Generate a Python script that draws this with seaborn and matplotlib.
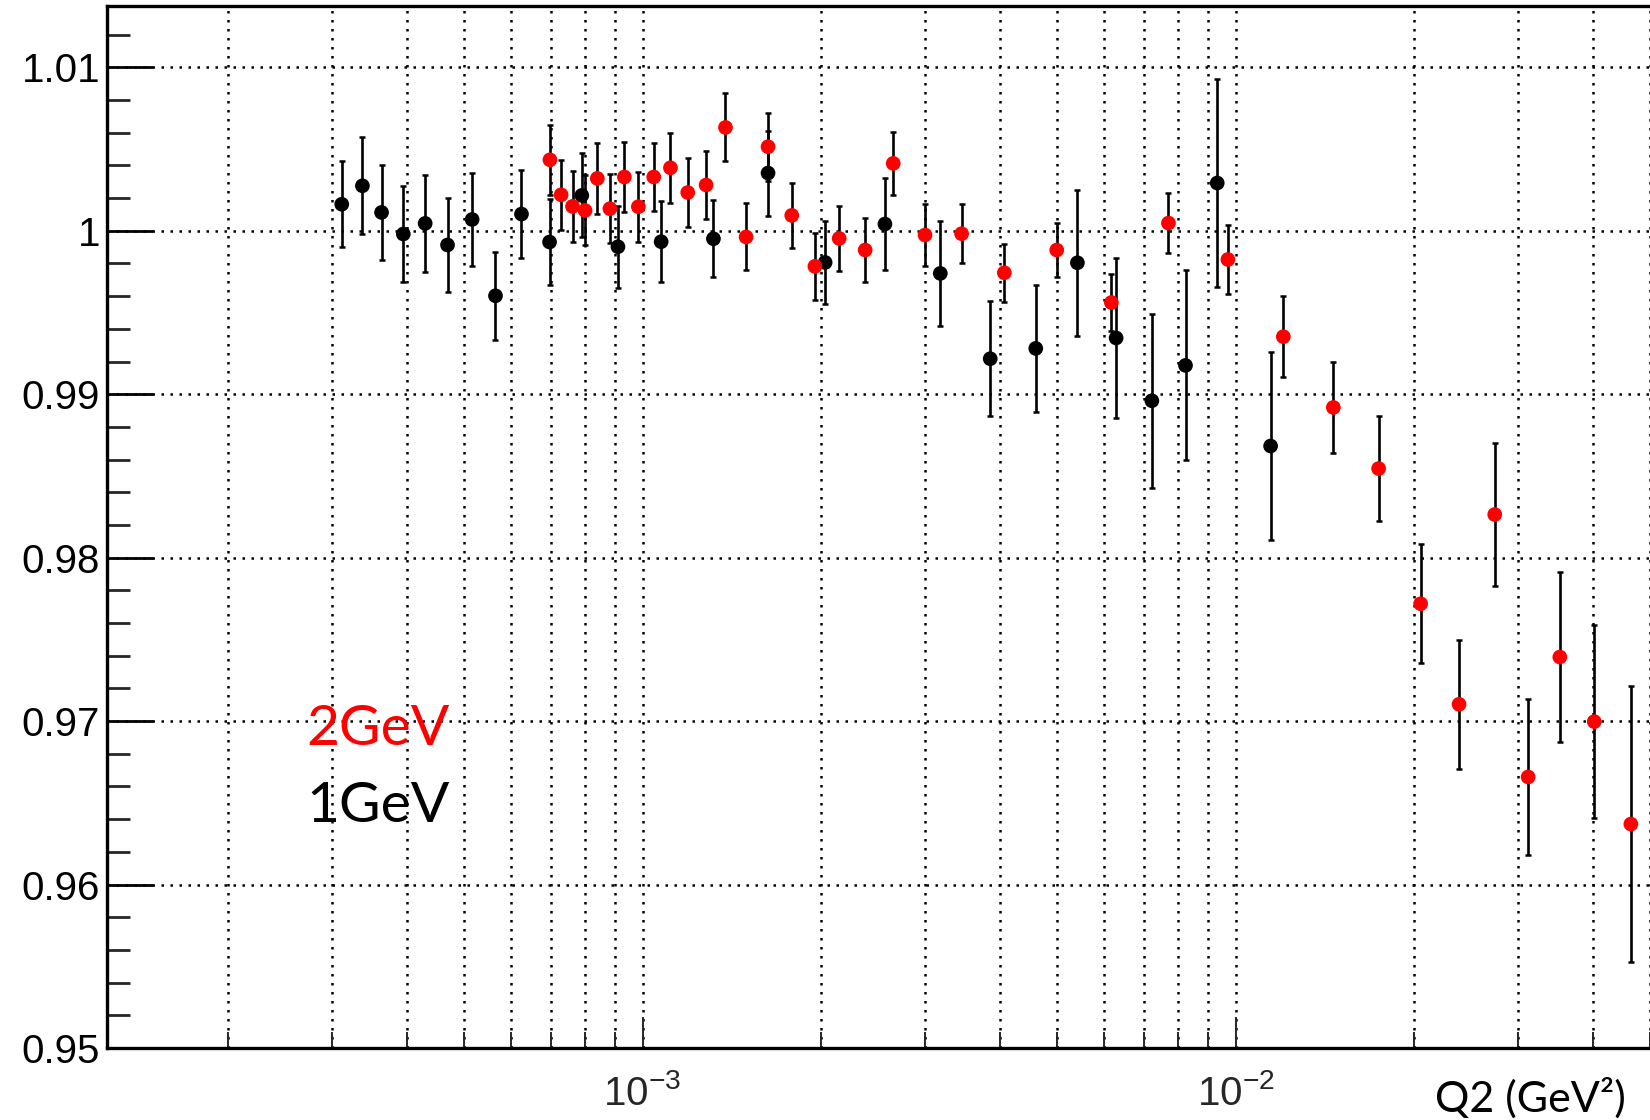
import numpy as np
import pandas as pd
import matplotlib
matplotlib.use("Agg")
import matplotlib.pyplot as plt
import seaborn as sns
from matplotlib.ticker import LogLocator, NullFormatter, MultipleLocator

# ---------------- data ----------------
q2_1gev = [3.11e-4, 3.37e-4, 3.63e-4, 3.95e-4, 4.30e-4, 4.69e-4, 5.16e-4, 5.65e-4,
           6.25e-4, 6.97e-4, 7.90e-4, 9.09e-4, 1.075e-3, 1.317e-3, 1.628e-3, 2.032e-3,
           2.563e-3, 3.178e-3, 3.858e-3, 4.604e-3, 5.412e-3, 6.29e-3, 7.226e-3,
           8.235e-3, 9.314e-3, 1.146e-2]
ratio_1gev = [1.00162, 1.00275, 1.00112, 0.99980, 1.00045, 0.99913, 1.00069, 0.99602,
              1.00102, 0.99931, 1.00216, 0.99902, 0.99933, 0.99951, 1.00353, 0.99806,
              1.00041, 0.99739, 0.99217, 0.99280, 0.99804, 0.99344, 0.98960, 0.99176,
              1.00292, 0.98683]
err_1gev = [0.00262, 0.00296, 0.00292, 0.00295, 0.00295, 0.00290, 0.00283, 0.00271,
            0.00268, 0.00262, 0.00257, 0.00252, 0.00249, 0.00236, 0.00260, 0.00253,
            0.00279, 0.00320, 0.00353, 0.00388, 0.00445, 0.00489, 0.00531, 0.00581,
            0.00638, 0.00575]

q2_2gev = [6.98e-4, 7.29e-4, 7.62e-4, 8.00e-4, 8.39e-4, 8.81e-4, 9.32e-4, 9.84e-4,
           1.0445e-3, 1.1145e-3, 1.192e-3, 1.280e-3, 1.380e-3, 1.495e-3, 1.628e-3,
           1.785e-3, 1.953e-3, 2.146e-3, 2.374e-3, 2.647e-3, 2.995e-3, 3.452e-3,
           4.075e-3, 4.995e-3, 6.175e-3, 7.707e-3, 9.709e-3, 1.204e-2, 1.462e-2,
           1.743e-2, 2.052e-2, 2.382e-2, 2.736e-2, 3.115e-2, 3.523e-2, 4.027e-2, 4.642e-2]
ratio_2gev = [1.00434, 1.00220, 1.00149, 1.00124, 1.00320, 1.00135, 1.00329, 1.00147,
              1.00329, 1.00385, 1.00234, 1.00280, 1.00632, 0.99962, 1.00514, 1.00094,
              0.99782, 0.99953, 0.99882, 1.00412, 0.99974, 0.99982, 0.99743, 0.99882,
              0.99561, 1.00047, 0.99824, 0.99352, 0.98919, 0.98545, 0.97718, 0.97103,
              0.98264, 0.96658, 0.97392, 0.96997, 0.96370]
err_2gev = [0.00216, 0.00214, 0.00216, 0.00214, 0.00217, 0.00210, 0.00214, 0.00213,
            0.00210, 0.00214, 0.00211, 0.00210, 0.00208, 0.00205, 0.00207, 0.00201,
            0.00203, 0.00200, 0.00197, 0.00193, 0.00192, 0.00182, 0.00176, 0.00165,
            0.00174, 0.00184, 0.00209, 0.00246, 0.00280, 0.00319, 0.00363, 0.00396,
            0.00440, 0.00475, 0.00521, 0.00591, 0.00846]

series_names = ["1GeV", "2GeV"]
series_colors = ["black", "red"]

x_tick_vals = [1e-3, 1e-2]
x_tick_labels = [r"$\mathdefault{10^{-3}}$", r"$\mathdefault{10^{-2}}$"]
y_tick_vals = [0.95, 0.96, 0.97, 0.98, 0.99, 1.00, 1.01]
y_tick_labels = ["0.95", "0.96", "0.97", "0.98", "0.99", "1", "1.01"]
x_label = "Q2 (GeV\u00b2)"

# ---------------- style ----------------
sns.set_theme(style="ticks")
plt.rcParams["font.family"] = ["Liberation Sans", "DejaVu Sans"]
plt.rcParams["mathtext.fontset"] = "custom"
plt.rcParams["mathtext.rm"] = "Liberation Sans"
plt.rcParams["mathtext.it"] = "Liberation Sans:italic"
plt.rcParams["mathtext.bf"] = "Liberation Sans:bold"

df = pd.concat([
    pd.DataFrame({"Q2": q2_1gev, "ratio": ratio_1gev, "err": err_1gev, "beam": series_names[0]}),
    pd.DataFrame({"Q2": q2_2gev, "ratio": ratio_2gev, "err": err_2gev, "beam": series_names[1]}),
], ignore_index=True)

W, H = 1650, 1120
fig = plt.figure(figsize=(W / 100, H / 100), dpi=100)
ax = fig.add_axes([107 / W, 72 / H, 1543 / W, 1042 / H])
ax.set_xscale("log")
ax.set_xlim(1.25e-4, 5e-2)
ax.set_ylim(0.95, 1.01375)

# error bars (black for both series)
for name in series_names:
    sub = df[df["beam"] == name]
    ax.errorbar(sub["Q2"], sub["ratio"], yerr=sub["err"], fmt="none",
                ecolor="black", elinewidth=1.9, capsize=2.2, capthick=1.8, zorder=2)

sns.scatterplot(data=df, x="Q2", y="ratio", hue="beam",
                palette=dict(zip(series_names, series_colors)),
                s=112, linewidth=0, legend=False, ax=ax, zorder=3)

# ticks
ax.set_xticks(x_tick_vals, labels=x_tick_labels)
ax.xaxis.set_minor_locator(LogLocator(base=10, subs=np.arange(2, 10), numticks=30))
ax.xaxis.set_minor_formatter(NullFormatter())
ax.set_yticks(y_tick_vals, labels=y_tick_labels)
ax.yaxis.set_minor_locator(MultipleLocator(0.002))

ax.tick_params(axis="y", which="major", direction="in", length=33, width=2.0,
               pad=5, labelsize=29, left=True, right=False, colors="black")
ax.tick_params(axis="y", which="minor", direction="in", length=16.5, width=2.0,
               left=True, right=False)
ax.tick_params(axis="x", which="major", direction="in", length=22.5, width=1.4,
               pad=19, labelsize=29, bottom=True, top=False)
ax.tick_params(axis="x", which="minor", direction="in", length=11.5, width=1.4,
               bottom=True, top=False)

# grid
ax.set_axisbelow(True)
gstyle = dict(color="black", linestyle=(0, (1.0, 2.6)), linewidth=1.8)
ax.xaxis.grid(True, which="both", **gstyle)
ax.yaxis.grid(True, which="major", **gstyle)

for side in ["left", "top", "bottom"]:
    ax.spines[side].set_linewidth(2.4)
    ax.spines[side].set_color("black")
ax.spines["right"].set_visible(False)

ax.set_xlabel("")
ax.set_ylabel("")

# annotations
fig.text(306 / W, 1 - 745 / H, series_names[1], color=series_colors[1], fontsize=41,
         family=["Lato", "DejaVu Sans"], ha="left", va="baseline")
fig.text(306 / W, 1 - 822 / H, series_names[0], color=series_colors[0], fontsize=41,
         family=["Lato", "DejaVu Sans"], ha="left", va="baseline")
fig.text(1626 / W, 1 - 1112 / H, x_label, color="black", fontsize=31,
         family=["Lato", "DejaVu Sans"], ha="right", va="baseline")

fig.savefig("out.png", dpi=100)
